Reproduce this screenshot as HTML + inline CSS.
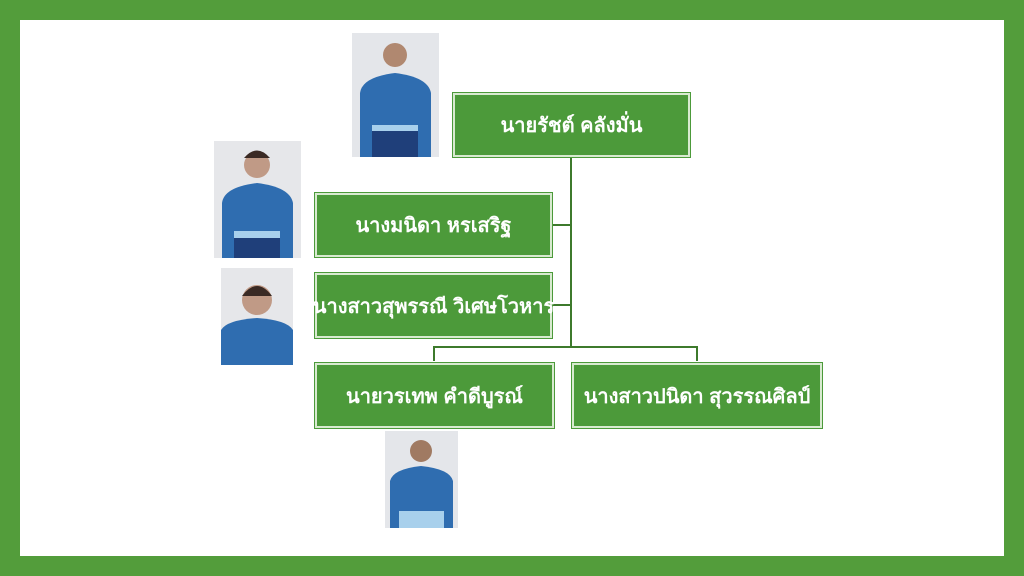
<!DOCTYPE html>
<html><head><meta charset="utf-8"><style>
body{margin:0;width:1024px;height:576px;background:#539d3b;position:relative;overflow:hidden;font-family:"Liberation Sans","DejaVu Sans",sans-serif}
.in{position:absolute;left:20px;top:20px;width:984px;height:536px;background:#fff}
.b{position:absolute;background:#4c9a3a;border:1px solid #4c9a3a;box-shadow:inset 0 0 0 2px #d8ead0;color:#fff;font-weight:bold;font-size:20px;display:flex;align-items:center;justify-content:center;white-space:nowrap;box-sizing:border-box}
.l{position:absolute;background:#3d7a2c}
svg{position:absolute}
</style></head><body>
<div class="in"></div>
<div class="l" style="left:570px;top:157px;width:2px;height:191px"></div>
<div class="l" style="left:433px;top:346px;width:265px;height:2px"></div>
<div class="l" style="left:433px;top:346px;width:2px;height:15px"></div>
<div class="l" style="left:696px;top:346px;width:2px;height:15px"></div>
<div class="l" style="left:552px;top:224px;width:19px;height:2px"></div>
<div class="l" style="left:552px;top:304px;width:19px;height:2px"></div>
<div class="b" style="left:452px;top:92px;width:239px;height:66px">นายรัชต์ คลังมั่น</div>
<div class="b" style="left:314px;top:192px;width:239px;height:66px">นางมนิดา หรเสริฐ</div>
<div class="b" style="left:314px;top:272px;width:239px;height:67px">นางสาวสุพรรณี วิเศษโวหาร</div>
<div class="b" style="left:314px;top:362px;width:241px;height:67px">นายวรเทพ คำดีบูรณ์</div>
<div class="b" style="left:571px;top:362px;width:252px;height:67px">นางสาวปนิดา สุวรรณศิลป์</div>
<svg style="left:352px;top:33px" width="87" height="124" viewBox="0 0 87 124"><rect width="87" height="124" fill="#e4e6ea"/><circle cx="43" cy="22" r="12" fill="#b08870"/><path d="M8 124 V60 Q10 44 43 40 Q76 44 79 60 V124Z" fill="#2f6db0"/><rect x="20" y="96" width="46" height="28" fill="#1f3f7a"/><rect x="20" y="92" width="46" height="6" fill="#a8d0ec"/></svg>
<svg style="left:214px;top:141px" width="87" height="117" viewBox="0 0 87 117"><rect width="87" height="117" fill="#e6e7ea"/><circle cx="43" cy="24" r="13" fill="#c09a86"/><path d="M30 17 Q43 2 56 17Z" fill="#3a2a24"/><path d="M8 117 V62 Q10 46 43 42 Q76 46 79 62 V117Z" fill="#2f6db0"/><rect x="20" y="96" width="46" height="21" fill="#1f3f7a"/><rect x="20" y="90" width="46" height="7" fill="#a8d0ec"/></svg>
<svg style="left:221px;top:268px" width="72" height="97" viewBox="0 0 72 97"><rect width="72" height="97" fill="#e6e7ea"/><circle cx="36" cy="32" r="15" fill="#c09a86"/><path d="M21 28 Q36 8 51 28Z" fill="#3a2a24"/><path d="M0 97 V62 Q6 52 36 50 Q66 52 72 62 V97Z" fill="#2f6db0"/></svg>
<svg style="left:385px;top:431px" width="73" height="97" viewBox="0 0 73 97"><rect width="73" height="97" fill="#e4e6ea"/><circle cx="36" cy="20" r="11" fill="#a07a62"/><path d="M5 97 V50 Q8 38 36 35 Q65 38 68 50 V97Z" fill="#2f6db0"/><rect x="14" y="80" width="45" height="17" fill="#a8d0ec"/></svg>
</body></html>
